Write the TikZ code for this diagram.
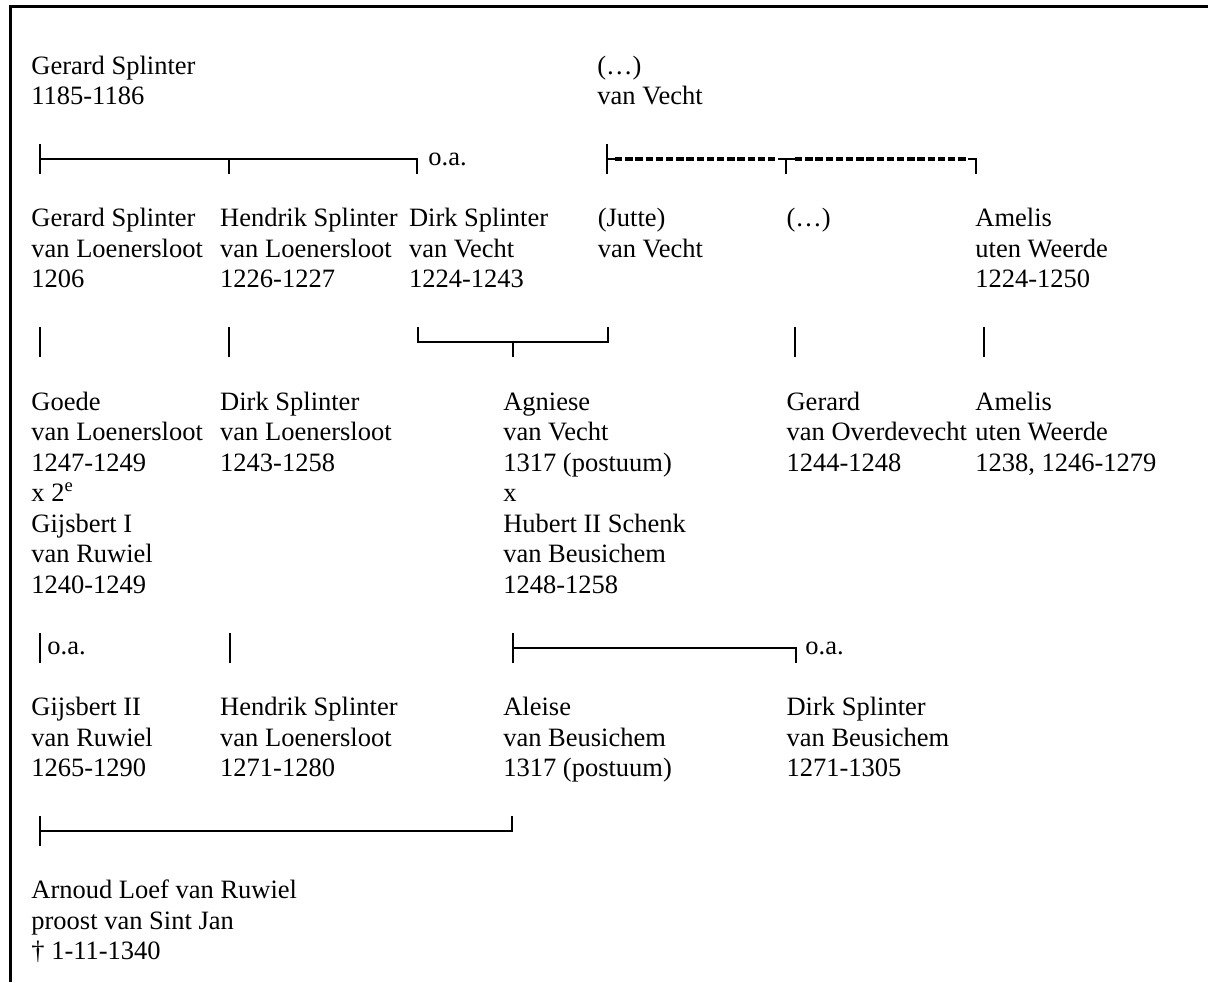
\documentclass[tikz,border=0pt]{standalone}
\usepackage{fontspec}
\setmainfont{Liberation Serif}
\newcommand{\blk}[1]{\begin{tabular}[t]{@{}l@{}}#1\end{tabular}}
\begin{document}
\begin{tikzpicture}[x=0.5pt,y=-0.5pt,
  person/.style={anchor=base west, inner sep=0pt, font=\fontsize{13.25pt}{15.275pt}\selectfont},
  conn/.style={line width=0.9pt, line cap=butt},
  heavydots/.style={line width=2pt, dash pattern=on 3.7pt off 1.4pt},
  frame/.style={line width=1.5pt, line join=miter}]
\useasboundingbox (0,0) rectangle (1208,982);
% frame (top and left only)
\coordinate (fb) at (10.5,982);
\coordinate (fc) at (10.5,6.5);
\coordinate (fr) at (1208,6.5);
\draw[frame] (fb) -- (fc) -- (fr);

% generation 1
\node[person] (gs) at (31,74) {\blk{Gerard Splinter\\1185-1186}};
\node[person] (vv) at (597,74) {\blk{(…)\\van Vecht}};

% generation 2
\node[person] (gsl) at (31,226.75) {\blk{Gerard Splinter\\van Loenersloot\\1206}};
\node[person] (hsl) at (219.8,226.75) {\blk{Hendrik Splinter\\van Loenersloot\\1226-1227}};
\node[person] (dsv) at (408.6,226.75) {\blk{Dirk Splinter\\van Vecht\\1224-1243}};
\node[person] (jvv) at (597.4,226.75) {\blk{(Jutte)\\van Vecht}};
\node[person] (unk) at (786.2,226.75) {\blk{(…)}};
\node[person] (auw) at (975,226.75) {\blk{Amelis\\uten Weerde\\1224-1250}};

% generation 3
\node[person] (gvl) at (31,410.05) {\blk{Goede\\van Loenersloot\\1247-1249\\x 2\textsuperscript{e}\\Gijsbert I\\van Ruwiel\\1240-1249}};
\node[person] (dsl) at (219.8,410.05) {\blk{Dirk Splinter\\van Loenersloot\\1243-1258}};
\node[person] (avv) at (502.9,410.05) {\blk{Agniese\\van Vecht\\1317 (postuum)\\x\\Hubert II Schenk\\van Beusichem\\1248-1258}};
\node[person] (gvo) at (786.2,410.05) {\blk{Gerard\\van Overdevecht\\1244-1248}};
\node[person] (auw2) at (975,410.05) {\blk{Amelis\\uten Weerde\\1238, 1246-1279}};

% generation 4
\node[person] (gr2) at (31,715.55) {\blk{Gijsbert II\\van Ruwiel\\1265-1290}};
\node[person] (hsl2) at (219.8,715.55) {\blk{Hendrik Splinter\\van Loenersloot\\1271-1280}};
\node[person] (avb) at (502.9,715.55) {\blk{Aleise\\van Beusichem\\1317 (postuum)}};
\node[person] (dsb) at (786.2,715.55) {\blk{Dirk Splinter\\van Beusichem\\1271-1305}};

% generation 5
\node[person] (alr) at (31,898.85) {\blk{Arnoud Loef van Ruwiel\\proost van Sint Jan\\† 1-11-1340}};

% ---- connector row 1 (left, solid)
\coordinate (a1t) at (40,144);
\coordinate (a1m) at (40,159);
\coordinate (a1b) at (40,174);
\coordinate (a2m) at (229,159);
\coordinate (a2b) at (229,174);
\coordinate (a3m) at (417,159);
\coordinate (a3b) at (417,174);
\draw[conn] (a1t) -- (a1b);
\draw[conn] (a1m) -- (a3m) -- (a3b);
\draw[conn] (a2m) -- (a2b);
\node[person] (oa1) at (428,165.65) {o.a.};

% ---- connector row 1 (right, heavy dotted)
\coordinate (d1t) at (607,144);
\coordinate (d1m) at (607,159);
\coordinate (d1b) at (607,174);
\coordinate (d1s) at (615,159);
\coordinate (d2l) at (778,159);
\coordinate (d2m) at (786,159);
\coordinate (d2b) at (786,174);
\coordinate (d2r) at (795,159);
\coordinate (d3l) at (968,159);
\coordinate (d3m) at (976,159);
\coordinate (d3b) at (976,174);
\draw[conn] (d1t) -- (d1b);
\draw[conn] (d1m) -- (d1s);
\draw[heavydots] (d1s) -- (d2l);
\draw[conn] (d2l) -- (d2r);
\draw[conn] (d2m) -- (d2b);
\draw[heavydots] (d2r) -- (d3l);
\draw[conn] (d3l) -- (d3m) -- (d3b);

% ---- connector row 2
\coordinate (b1t) at (40,327);
\coordinate (b1b) at (40,357);
\coordinate (b2t) at (229,327);
\coordinate (b2b) at (229,357);
\coordinate (b3t) at (418,327);
\coordinate (b3m) at (418,342);
\coordinate (b4m) at (513,342);
\coordinate (b4b) at (513,357);
\coordinate (b5m) at (608,342);
\coordinate (b5t) at (608,327);
\coordinate (b6t) at (795,327);
\coordinate (b6b) at (795,357);
\coordinate (b7t) at (984,327);
\coordinate (b7b) at (984,357);
\draw[conn] (b1t) -- (b1b);
\draw[conn] (b2t) -- (b2b);
\draw[conn] (b3t) -- (b3m) -- (b5m) -- (b5t);
\draw[conn] (b4m) -- (b4b);
\draw[conn] (b6t) -- (b6b);
\draw[conn] (b7t) -- (b7b);

% ---- connector row 3
\coordinate (c1t) at (40,633);
\coordinate (c1b) at (40,663);
\coordinate (c2t) at (229.6,633);
\coordinate (c2b) at (229.6,663);
\coordinate (c3t) at (513,633);
\coordinate (c3m) at (513,648);
\coordinate (c3b) at (513,663);
\coordinate (c4m) at (796,648);
\coordinate (c4b) at (796,663);
\draw[conn] (c1t) -- (c1b);
\node[person] (oa2) at (47,654.45) {o.a.};
\draw[conn] (c2t) -- (c2b);
\draw[conn] (c3t) -- (c3b);
\draw[conn] (c3m) -- (c4m) -- (c4b);
\node[person] (oa3) at (805,654.45) {o.a.};

% ---- connector row 4
\coordinate (e1t) at (40,816);
\coordinate (e1m) at (40,831);
\coordinate (e1b) at (40,846);
\coordinate (e2m) at (512,831);
\coordinate (e2t) at (512,816);
\draw[conn] (e1t) -- (e1b);
\draw[conn] (e1m) -- (e2m) -- (e2t);
\end{tikzpicture}
\end{document}
